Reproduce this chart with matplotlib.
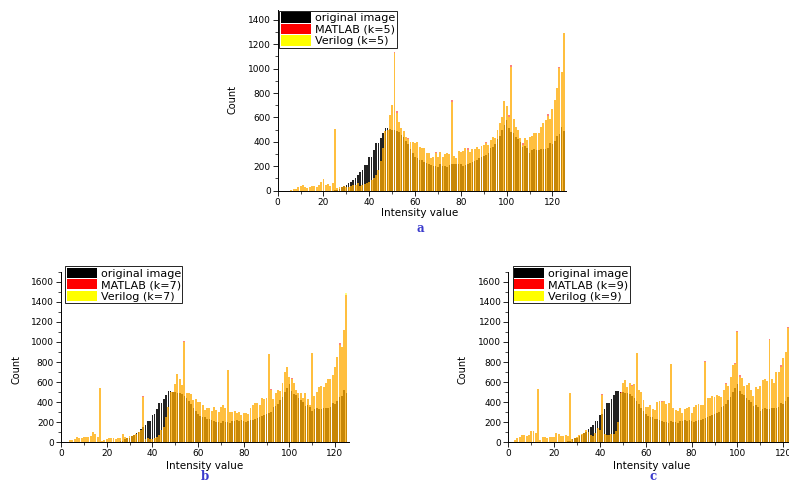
import matplotlib
matplotlib.use("Agg")
import matplotlib.pyplot as plt
from matplotlib.patches import Patch
from matplotlib.ticker import MultipleLocator

# ---------------- data ----------------
intensity = list(range(126))

original = [
    0, 0, 0, 0, 0, 0, 0, 0, 0, 0,
    0, 0, 0, 0, 0, 0, 0, 0, 0, 0,
    0, 0, 0, 0, 0, 3, 8, 15, 28, 39,
    47, 60, 74, 88, 101, 129, 156, 170, 211, 211,
    274, 279, 334, 388, 388, 429, 470, 515, 515, 505,
    500, 495, 490, 480, 460, 440, 410, 380, 340, 310,
    280, 265, 255, 250, 235, 230, 220, 210, 200, 200,
    195, 215, 205, 200, 195, 210, 215, 220, 215, 220,
    215, 205, 210, 220, 225, 235, 245, 255, 265, 275,
    285, 295, 305, 350, 360, 380, 420, 450, 500, 540,
    580, 510, 480, 470, 440, 420, 400, 360, 370, 350,
    310, 330, 340, 330, 330, 340, 340, 340, 350, 390,
    380, 410, 450, 465, 520, 490]

verilog_k5 = [
    0, 0, 0, 0, 0, 0, 8, 10, 12, 30,
    39, 47, 28, 25, 30, 39, 39, 28, 47, 74,
    93, 50, 55, 39, 60, 503, 20, 28, 28, 39,
    28, 33, 39, 44, 47, 60, 39, 47, 55, 66,
    74, 88, 101, 129, 170, 240, 350, 490, 500, 620,
    700, 1130, 640, 560, 510, 490, 440, 420, 400, 400,
    389, 402, 361, 348, 348, 312, 306, 265, 279, 306,
    279, 320, 279, 301, 306, 301, 730, 285, 265, 328,
    320, 328, 348, 334, 320, 339, 339, 356, 342, 366,
    374, 389, 374, 415, 437, 430, 497, 552, 607, 738,
    694, 607, 1017, 585, 520, 497, 430, 374, 430, 415,
    437, 448, 470, 470, 470, 525, 552, 580, 613, 585,
    667, 744, 839, 1003, 976, 1290]

matlab_k5 = [
    0, 0, 0, 0, 0, 0, 8, 10, 12, 30,
    39, 47, 28, 25, 30, 39, 39, 28, 47, 74,
    93, 50, 55, 39, 60, 503, 20, 28, 28, 39,
    28, 33, 39, 44, 47, 60, 39, 47, 55, 66,
    74, 88, 101, 129, 170, 240, 350, 490, 500, 620,
    700, 1140, 652, 560, 510, 490, 440, 432, 400, 400,
    389, 402, 361, 348, 348, 312, 306, 265, 279, 318,
    279, 320, 279, 301, 306, 301, 740, 285, 265, 328,
    320, 328, 348, 346, 320, 339, 339, 356, 342, 366,
    374, 401, 374, 415, 437, 430, 497, 552, 607, 738,
    694, 620, 1027, 585, 520, 497, 430, 388, 430, 415,
    437, 448, 470, 470, 470, 525, 552, 580, 625, 585,
    667, 744, 839, 1015, 976, 1295]

verilog_k7 = [
    0, 0, 3, 5, 18, 25, 35, 52, 45, 40,
    50, 50, 52, 60, 106, 83, 52, 538, 15, 22,
    35, 45, 45, 40, 30, 40, 45, 83, 50, 45,
    58, 62, 75, 80, 100, 122, 454, 35, 45, 35,
    35, 45, 52, 68, 119, 152, 252, 350, 500, 503,
    585, 680, 630, 575, 995, 490, 495, 480, 420, 430,
    400, 400, 375, 320, 340, 340, 310, 355, 320, 300,
    355, 372, 339, 720, 305, 305, 315, 295, 305, 272,
    295, 295, 282, 339, 372, 395, 388, 372, 438, 428,
    438, 880, 521, 428, 488, 521, 511, 587, 703, 746,
    654, 627, 587, 521, 490, 490, 440, 490, 430, 370,
    890, 460, 505, 550, 560, 555, 590, 630, 630, 670,
    750, 850, 970, 950, 1120, 1490]

matlab_k7 = [
    0, 0, 3, 5, 18, 25, 35, 52, 45, 40,
    50, 50, 52, 60, 106, 83, 52, 538, 15, 22,
    35, 45, 45, 40, 30, 40, 45, 83, 50, 45,
    58, 62, 75, 80, 100, 122, 462, 35, 45, 35,
    35, 45, 52, 68, 119, 152, 252, 350, 500, 503,
    585, 680, 630, 575, 1005, 490, 495, 480, 420, 430,
    400, 400, 375, 320, 340, 340, 310, 355, 320, 300,
    355, 372, 339, 720, 305, 305, 315, 295, 305, 272,
    295, 295, 282, 339, 372, 395, 388, 372, 438, 428,
    438, 880, 528, 428, 488, 521, 511, 587, 703, 746,
    654, 640, 587, 521, 490, 490, 440, 490, 430, 370,
    890, 460, 505, 550, 560, 555, 590, 630, 630, 670,
    750, 850, 985, 950, 1120, 1465]

verilog_k9 = [
    0, 0, 6, 22, 38, 55, 72, 72, 62, 72,
    115, 115, 96, 527, 22, 48, 48, 38, 55, 48,
    55, 96, 82, 62, 62, 72, 60, 488, 29, 38,
    55, 72, 82, 89, 122, 105, 72, 62, 89, 139,
    120, 471, 80, 70, 75, 80, 85, 110, 200, 490,
    590, 620, 555, 595, 560, 580, 886, 522, 505, 422,
    349, 349, 372, 330, 320, 405, 415, 400, 415, 380,
    390, 780, 339, 322, 315, 339, 289, 329, 339, 355,
    289, 348, 372, 378, 372, 372, 803, 438, 438, 461,
    448, 471, 461, 455, 521, 581, 561, 647, 770, 780,
    1102, 654, 637, 561, 571, 594, 521, 461, 547, 528,
    561, 621, 627, 614, 1020, 627, 594, 704, 704, 754,
    837, 903, 1135, 1000, 1100, 1250]

matlab_k9 = [
    0, 0, 6, 22, 38, 55, 72, 72, 62, 72,
    115, 115, 96, 535, 22, 48, 48, 38, 55, 48,
    55, 96, 82, 62, 62, 72, 60, 492, 29, 38,
    55, 72, 82, 89, 122, 105, 72, 62, 89, 139,
    120, 482, 80, 70, 75, 80, 85, 110, 200, 502,
    590, 620, 555, 595, 575, 580, 890, 522, 505, 422,
    349, 349, 372, 330, 320, 405, 415, 415, 415, 380,
    390, 785, 339, 322, 315, 339, 289, 329, 339, 355,
    289, 348, 372, 378, 372, 372, 808, 438, 438, 461,
    448, 471, 461, 455, 521, 595, 561, 647, 770, 792,
    1110, 666, 637, 561, 571, 594, 521, 461, 547, 528,
    561, 621, 627, 614, 1025, 627, 594, 704, 704, 766,
    837, 903, 1150, 1000, 1100, 1250]

legend_labels = [
    ["original image", "MATLAB (k=5)", "Verilog (k=5)"],
    ["original image", "MATLAB (k=7)", "Verilog (k=7)"],
    ["original image", "MATLAB (k=9)", "Verilog (k=9)"],
]
captions = ["a", "b", "c"]
x_ticks = [0, 20, 40, 60, 80, 100, 120]

# ---------------- layout ----------------
W, H = 789, 483
fig = plt.figure(figsize=(W / 100, H / 100), dpi=100)


def px_rect(left, top, right, bottom):
    return [left / W, 1 - bottom / H, (right - left) / W, (bottom - top) / H]


specs = [
    dict(rect=px_rect(277.7, 10, 566.2, 190.7), ytop=1480, ymax_tick=1400,
         legend=(279.3, 10.7), ylabel=(233, 100), xlabel=(420, 213), cap=(420, 228)),
    dict(rect=px_rect(61, 271.7, 348.7, 442.3), ytop=1700, ymax_tick=1600,
         legend=(65, 266), ylabel=(17, 370), xlabel=(205, 466), cap=(205, 477)),
    dict(rect=px_rect(508.3, 271.7, 797, 442.3), ytop=1700, ymax_tick=1600,
         legend=(512.7, 266), ylabel=(462, 370), xlabel=(652, 466), cap=(653, 477)),
]
series = [(matlab_k5, verilog_k5), (matlab_k7, verilog_k7), (matlab_k9, verilog_k9)]

font = "DejaVu Sans"
for spec, (mat, ver), labels, cap in zip(specs, series, legend_labels, captions):
    ax = fig.add_axes(spec["rect"])
    ax.bar(intensity, original, width=0.7, color="#222222", linewidth=0, zorder=2)
    ax.bar(intensity, mat, width=0.85, color="#FF0000", alpha=0.5, linewidth=0, zorder=3)
    ax.bar(intensity, ver, width=0.85, color="#FFFF00", alpha=0.5, linewidth=0, zorder=4)
    ax.set_xlim(0, 126)
    ax.set_ylim(0, spec["ytop"])
    ax.set_xticks(x_ticks)
    ax.set_yticks(list(range(0, spec["ymax_tick"] + 1, 200)))
    ax.xaxis.set_minor_locator(MultipleLocator(10))
    ax.yaxis.set_minor_locator(MultipleLocator(100))
    ax.tick_params(which="major", direction="out", length=3.5, width=0.6,
                   labelsize=6.5, pad=1.5, colors="black")
    ax.tick_params(which="minor", direction="out", length=2, width=0.5)
    for lab in ax.get_xticklabels() + ax.get_yticklabels():
        lab.set_family(font)
    for s in ("top", "right"):
        ax.spines[s].set_visible(False)
    for s in ("left", "bottom"):
        ax.spines[s].set_linewidth(0.7)
    ax.set_facecolor("none")

    handles = [Patch(facecolor="black", edgecolor="none"),
               Patch(facecolor="#FF0000", edgecolor="none"),
               Patch(facecolor="#FFFF00", edgecolor="none")]
    lx, ly = spec["legend"]
    leg = ax.legend(handles, labels, loc="upper left",
                    bbox_to_anchor=(lx / W, 1 - ly / H), bbox_transform=fig.transFigure,
                    borderaxespad=0, prop={"family": font, "size": 8},
                    handlelength=2.7, handleheight=1.05, labelspacing=0.05,
                    handletextpad=0.35, borderpad=0.15, fancybox=False,
                    framealpha=1, edgecolor="black")
    leg.get_frame().set_linewidth(0.6)
    leg.set_zorder(10)

    yx, yy = spec["ylabel"]
    fig.text(yx / W, 1 - yy / H, "Count", rotation=90, ha="center", va="center",
             fontsize=7, family=font)
    xx, xy = spec["xlabel"]
    fig.text(xx / W, 1 - xy / H, "Intensity value", ha="center", va="center",
             fontsize=7.5, family=font)
    cx, cy = spec["cap"]
    fig.text(cx / W, 1 - cy / H, cap, ha="center", va="center", fontsize=8.5,
             family="DejaVu Serif", weight="bold", color="#3a3acc")

fig.savefig("out.png", dpi=100)
